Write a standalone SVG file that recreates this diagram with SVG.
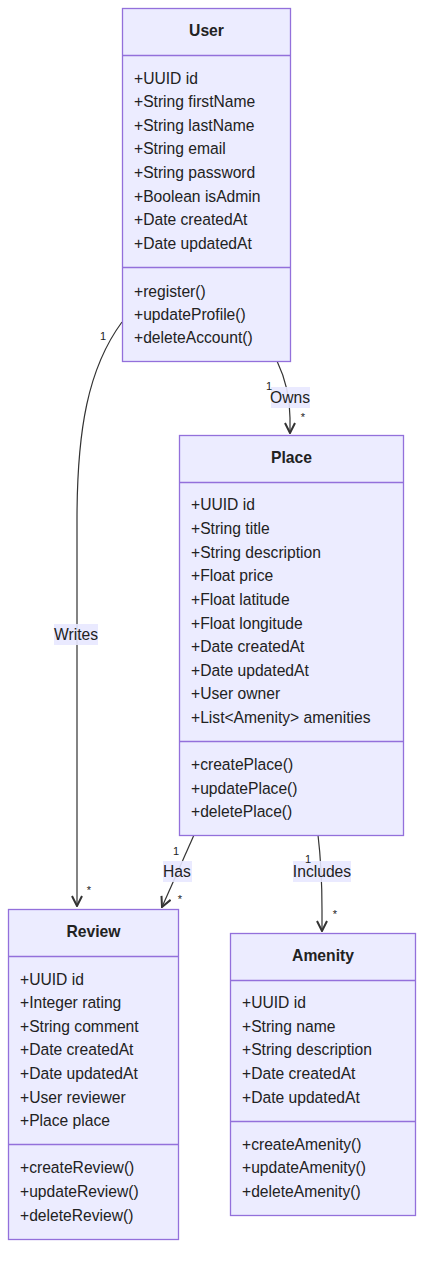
<svg xmlns="http://www.w3.org/2000/svg" width="431" height="1268" viewBox="0 0 431 1268">
<style>
.box{fill:#ECECFF;stroke:#9370DB;stroke-width:1.3}
.div{stroke:#9370DB;stroke-width:1.3}
text{font-family:"Liberation Sans",Arial,sans-serif;fill:#222}
.t{font-size:15.7px;font-weight:bold;text-anchor:middle}
.m{font-size:15.65px}
.e{stroke:#333;stroke-width:1.2;fill:none}
.lb{fill:#E8E8FF;opacity:0.9}
.lt{font-size:15.65px;text-anchor:middle}
.c{font-size:11px;text-anchor:middle}
</style>
<defs>
<marker id="arr" viewBox="0 0 12 12" refX="11" refY="6" markerWidth="12" markerHeight="12" markerUnits="userSpaceOnUse" orient="auto">
<path d="M1,1 L11,6 L1,11" fill="none" stroke="#333" stroke-width="2"/>
</marker>
</defs>
<g id="connectors">
<path class="e" d="M122,322 C88,368 77,430 77,520 L77,906" marker-end="url(#arr)"/>
<path class="e" d="M277,361 C286,380 290,400 290,418 L290,433" marker-end="url(#arr)"/>
<path class="e" d="M194,835 L162,907" marker-end="url(#arr)"/>
<path class="e" d="M318,835 C321,860 322,880 322,910 L322,931" marker-end="url(#arr)"/>
<rect class="lb" x="54" y="624" width="44" height="21"/>
<text class="lt" x="76" y="640">Writes</text>
<rect class="lb" x="271" y="387" width="39" height="21"/>
<text class="lt" x="290" y="403">Owns</text>
<rect class="lb" x="163" y="861" width="29" height="21"/>
<text class="lt" x="177" y="877">Has</text>
<rect class="lb" x="293" y="861" width="58" height="21"/>
<text class="lt" x="322" y="877">Includes</text>
<text class="c" x="103" y="340">1</text>
<text class="c" x="89" y="894">*</text>
<text class="c" x="269" y="390">1</text>
<text class="c" x="303" y="421">*</text>
<text class="c" x="176" y="855">1</text>
<text class="c" x="180" y="903">*</text>
<text class="c" x="308" y="863">1</text>
<text class="c" x="335" y="918">*</text>
</g>
<g id="User">
<rect class="box" x="122.5" y="8.5" width="168" height="353"/>
<line class="div" x1="122.5" y1="55.5" x2="290.5" y2="55.5"/>
<line class="div" x1="122.5" y1="267.5" x2="290.5" y2="267.5"/>
<text class="t" x="206.5" y="36">User</text>
<text class="m" x="134" y="84">+UUID id</text>
<text class="m" x="134" y="107">+String firstName</text>
<text class="m" x="134" y="131">+String lastName</text>
<text class="m" x="134" y="154">+String email</text>
<text class="m" x="134" y="178">+String password</text>
<text class="m" x="134" y="202">+Boolean isAdmin</text>
<text class="m" x="134" y="225">+Date createdAt</text>
<text class="m" x="134" y="249">+Date updatedAt</text>
<text class="m" x="134" y="297">+register()</text>
<text class="m" x="134" y="320">+updateProfile()</text>
<text class="m" x="134" y="343">+deleteAccount()</text>
</g>
<g id="Place">
<rect class="box" x="179.5" y="435.5" width="224" height="400"/>
<line class="div" x1="179.5" y1="482.5" x2="403.5" y2="482.5"/>
<line class="div" x1="179.5" y1="741.5" x2="403.5" y2="741.5"/>
<text class="t" x="291.5" y="463">Place</text>
<text class="m" x="191" y="510">+UUID id</text>
<text class="m" x="191" y="534">+String title</text>
<text class="m" x="191" y="558">+String description</text>
<text class="m" x="191" y="581">+Float price</text>
<text class="m" x="191" y="605">+Float latitude</text>
<text class="m" x="191" y="629">+Float longitude</text>
<text class="m" x="191" y="652">+Date createdAt</text>
<text class="m" x="191" y="676">+Date updatedAt</text>
<text class="m" x="191" y="699">+User owner</text>
<text class="m" x="191" y="723">+List&lt;Amenity&gt; amenities</text>
<text class="m" x="191" y="770">+createPlace()</text>
<text class="m" x="191" y="794">+updatePlace()</text>
<text class="m" x="191" y="817">+deletePlace()</text>
</g>
<g id="Review">
<rect class="box" x="8.5" y="909.5" width="170" height="330"/>
<line class="div" x1="8.5" y1="956.5" x2="178.5" y2="956.5"/>
<line class="div" x1="8.5" y1="1144.5" x2="178.5" y2="1144.5"/>
<text class="t" x="93.5" y="937">Review</text>
<text class="m" x="20" y="985">+UUID id</text>
<text class="m" x="20" y="1008">+Integer rating</text>
<text class="m" x="20" y="1032">+String comment</text>
<text class="m" x="20" y="1055">+Date createdAt</text>
<text class="m" x="20" y="1079">+Date updatedAt</text>
<text class="m" x="20" y="1103">+User reviewer</text>
<text class="m" x="20" y="1126">+Place place</text>
<text class="m" x="20" y="1173">+createReview()</text>
<text class="m" x="20" y="1197">+updateReview()</text>
<text class="m" x="20" y="1221">+deleteReview()</text>
</g>
<g id="Amenity">
<rect class="box" x="230.5" y="933.5" width="185" height="282"/>
<line class="div" x1="230.5" y1="980.5" x2="415.5" y2="980.5"/>
<line class="div" x1="230.5" y1="1121.5" x2="415.5" y2="1121.5"/>
<text class="t" x="323" y="961">Amenity</text>
<text class="m" x="242" y="1008">+UUID id</text>
<text class="m" x="242" y="1032">+String name</text>
<text class="m" x="242" y="1055">+String description</text>
<text class="m" x="242" y="1079">+Date createdAt</text>
<text class="m" x="242" y="1103">+Date updatedAt</text>
<text class="m" x="242" y="1150">+createAmenity()</text>
<text class="m" x="242" y="1173">+updateAmenity()</text>
<text class="m" x="242" y="1197">+deleteAmenity()</text>
</g>
</svg>
